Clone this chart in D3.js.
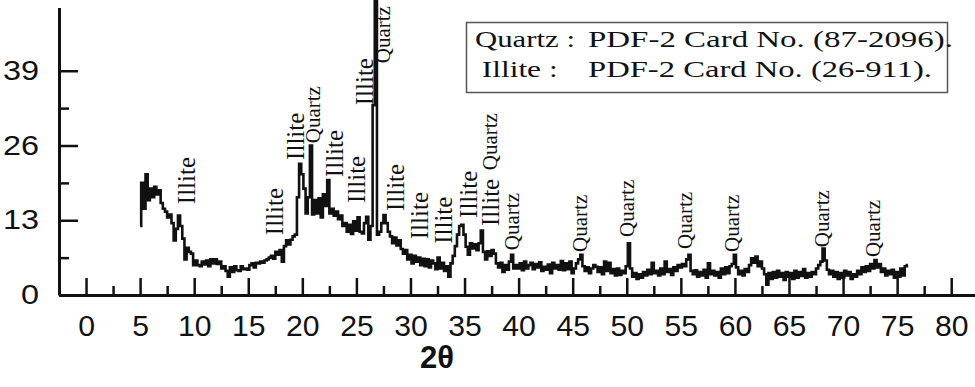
<!DOCTYPE html>
<html>
<head>
<meta charset="utf-8">
<script src="https://cdn.jsdelivr.net/npm/d3@7"></script>
<style>
  html, body { margin: 0; padding: 0; background: #fff; }
  svg { display: block; }
</style>
</head>
<body>
<div id="chart"></div>
<script>
const width = 975;
const height = 387;

// XRD intensity: one row per degree of 2θ,
// five readings per row (x.0, x.2, x.4, x.6, x.8)
const startAngle = 5;
const angleStep = 0.2;
const intensityRows = [
  [12, 19.5, 15, 21, 16.5],        // 5
  [18.5, 17, 18.8, 17.5, 18.2],    // 6
  [16, 15, 14.5, 13.5, 14],        // 7
  [12.5, 9.5, 11.5, 13.8, 12],     // 8
  [9.8, 6.2, 8.2, 7.5, 7.2],       // 9
  [5.2, 6, 5.2, 5, 5.8],           // 10
  [5.3, 6, 5, 6.2, 5.5],           // 11
  [6.2, 5.4, 5.8, 4.6, 5],         // 12
  [4.2, 3.2, 4.8, 4, 5],           // 13
  [4.3, 4.2, 5, 4.5, 4.6],         // 14
  [4.4, 5.2, 5.5, 4.8, 5.6],       // 15
  [5.5, 5.8, 5.6, 6, 6.2],         // 16
  [6.5, 6.8, 6.3, 7.5, 7],         // 17
  [7.8, 5.8, 8.5, 9.5, 8.8],       // 18
  [9.6, 10.2, 10.5, 17, 22.8],     // 19
  [21, 18.5, 14.2, 17, 26],        // 20
  [14, 16.5, 14.2, 16.8, 13.5],    // 21
  [17.5, 15.5, 20, 14.2, 15],      // 22
  [13.8, 14.5, 13.2, 13.8, 12],    // 23
  [12.5, 11, 12.2, 10.6, 12.8],    // 24
  [11.2, 13.5, 11, 10.7, 12.5],    // 25
  [13.6, 9.6, 12, 33, 52],         // 26
  [10.5, 11, 12.5, 13.9, 12.5],    // 27
  [11, 10.2, 9, 10, 8.6],          // 28
  [9.5, 8, 7.2, 7.8, 6.2],         // 29
  [7, 5.5, 6.8, 5.8, 6.5],         // 30
  [5.2, 6.3, 5, 6.2, 4.8],         // 31
  [6, 5.5, 4.5, 6.5, 4.6],         // 32
  [5.6, 4.2, 5, 3.2, 5.5],         // 33
  [6.8, 8.5, 10.5, 12, 12.2],      // 34
  [10.5, 8.4, 7, 9, 8.1],          // 35
  [8.8, 7.8, 9, 11.2, 7.5],        // 36
  [6.2, 7.6, 6.8, 7.8, 7.2],       // 37
  [5.5, 4.8, 5.6, 4, 5.2],         // 38
  [4.4, 5.8, 7, 4.6, 5.2],         // 39
  [4.6, 5.5, 4.3, 5.8, 4.6],       // 40
  [5.2, 5.6, 4.5, 5.4, 4.8],       // 41
  [5.7, 4.2, 4.9, 4.4, 5.3],       // 42
  [3.8, 5.6, 4.6, 5.2, 4.4],       // 43
  [5.9, 4.3, 5.5, 4.5, 5.8],       // 44
  [3.8, 4.6, 5.5, 6.2, 7],         // 45
  [5, 4.2, 4.8, 3.8, 4.6],         // 46
  [5.2, 4.9, 4, 4.8, 3.6],         // 47
  [5.8, 4.2, 5.6, 3.8, 4.5],       // 48
  [3.4, 4.6, 3.5, 4.2, 3.8],       // 49
  [5, 9, 4.6, 3.2, 3.8],           // 50
  [2.8, 3.6, 3, 4, 3.4],           // 51
  [4.4, 3.6, 5.6, 3.8, 4.2],       // 52
  [3.4, 4.6, 3.6, 5.8, 4],         // 53
  [4.5, 3.5, 4.8, 4.2, 5.2],       // 54
  [4.8, 5.4, 5, 6.2, 7],           // 55
  [4.2, 3.6, 4.3, 3.2, 4],         // 56
  [3.4, 4.4, 3, 5.5, 3.6],         // 57
  [4.2, 3.4, 4, 3, 4.6],           // 58
  [3.6, 4.8, 3.8, 5, 5.4],         // 59
  [7, 4.8, 3.6, 4.2, 3.4],         // 60
  [4.5, 4, 5.2, 6.4, 5.6],         // 61
  [6.7, 5, 5.8, 4.6, 3.6],         // 62
  [1.8, 3.8, 2.8, 4, 3],           // 63
  [4.2, 3.2, 3.8, 2.6, 4],         // 64
  [3.2, 3.8, 2.8, 4.2, 3],         // 65
  [4, 3.3, 4.5, 3, 3.8],           // 66
  [3.2, 4, 3.6, 4.6, 5.2],         // 67
  [5.8, 8.1, 6, 4.4, 3.6],         // 68
  [4.2, 3.2, 4, 2.8, 3.8],         // 69
  [3, 4.2, 3.4, 4, 2.8],           // 70
  [3.6, 3.2, 4.2, 3.6, 4.8],       // 71
  [4, 5, 4.2, 5.4, 4.6],           // 72
  [6.1, 4.8, 5.4, 4, 4.6],         // 73
  [3.4, 4.2, 3.6, 4.4, 3],         // 74
  [4, 3.2, 4.6, 3.4, 5],           // 75
  [5.2]                            // 76
];

const xTickValues = d3.range(0, 81, 5);
const yTickValues = [0, 13, 26, 39];

// peak annotations: phase, 2θ of the label, intensity where the label starts
const peakNames = ['Illite', 'Illite', 'Illite', 'Quartz', 'Illite', 'Illite', 'Illite', 'Quartz',
  'Illite', 'Illite', 'Illite', 'Illite', 'Illite', 'Quartz', 'Quartz',
  'Quartz', 'Quartz', 'Quartz', 'Quartz', 'Quartz', 'Quartz'];
const peakAngles = [10.06, 18.2, 20.13, 21.62, 23.75, 25.78, 26.53, 28.09,
  29.39, 31.61, 33.83, 36.14, 38.18, 37.99, 40.03,
  46.32, 50.67, 56.03, 60.38, 68.71, 73.42];
const peakLevels = [15.8, 10.4, 23.5, 26.4, 20.5, 16.0, 33.0, 40.3,
  14.6, 9.7, 8.9, 13.4, 12.0, 21.7, 7.8,
  7.5, 10.1, 8.0, 7.5, 8.3, 6.6];

const legendPhases = ['Quartz :', 'Illite :'];
const legendCards = ['PDF-2 Card No. (87-2096).', 'PDF-2 Card No. (26-911).'];

const data = intensityRows.flat().map((v, i) => ({ angle: startAngle + i * angleStep, value: v }));
const peaks = peakNames.map((name, i) => ({ name, angle: peakAngles[i], level: peakLevels[i] }));

const svg = d3.select('#chart').append('svg')
  .attr('width', width)
  .attr('height', height);

const x = d3.scaleLinear().domain([-2.5, 82.2]).range([59, 975]);
const y = d3.scaleLinear().domain([0, 50]).range([295, 7.5]);

const sans = "'Liberation Sans', Arial, sans-serif";
const serif = "'Liberation Serif', 'Times New Roman', serif";

// curve
svg.append('path')
  .datum(data)
  .attr('fill', 'none')
  .attr('stroke', '#111')
  .attr('stroke-width', 2.6)
  .attr('d', d3.line().x(d => x(d.angle)).y(d => y(d.value)).curve(d3.curveStep));

// x axis: minor ticks first, then major with labels
svg.append('g')
  .attr('transform', `translate(0,${y(0)})`)
  .call(d3.axisBottom(x).tickValues(d3.range(2.5, 82, 5)).tickSizeInner(-9).tickSizeOuter(0).tickFormat(''))
  .call(g => g.select('.domain').remove())
  .call(g => g.selectAll('line').attr('stroke', '#111').attr('stroke-width', 2.5));

const xAxis = svg.append('g')
  .attr('transform', `translate(0,${y(0)})`)
  .call(d3.axisBottom(x).tickValues(xTickValues).tickSizeInner(-17).tickSizeOuter(0).tickPadding(20));
xAxis.select('.domain').attr('stroke', '#111').attr('stroke-width', 3);
xAxis.selectAll('line').attr('stroke', '#111').attr('stroke-width', 2.5);
xAxis.selectAll('text')
  .attr('font-family', sans)
  .attr('font-size', 29)
  .attr('fill', '#111')
  .attr('transform', 'scale(1.04,1)');

// y axis
svg.append('g')
  .attr('transform', `translate(${x(-2.5)},0)`)
  .call(d3.axisLeft(y).tickValues([6.5, 19.5, 32.5]).tickSizeInner(-10).tickSizeOuter(0).tickFormat(''))
  .call(g => g.select('.domain').remove())
  .call(g => g.selectAll('line').attr('stroke', '#111').attr('stroke-width', 2.5));

const yAxis = svg.append('g')
  .attr('transform', `translate(${x(-2.5)},0)`)
  .call(d3.axisLeft(y).tickValues(yTickValues).tickSizeInner(-19).tickSizeOuter(0));
yAxis.select('.domain').attr('stroke', '#111').attr('stroke-width', 3);
yAxis.selectAll('line').attr('stroke', '#111').attr('stroke-width', 2.5);
yAxis.selectAll('text')
  .attr('x', 0)
  .attr('font-family', sans)
  .attr('font-size', 27)
  .attr('fill', '#111')
  .attr('transform', 'translate(-20,0) scale(1.2,1)');

// axis title
svg.append('text')
  .attr('x', 437)
  .attr('y', 368)
  .attr('text-anchor', 'middle')
  .attr('font-family', sans)
  .attr('font-weight', 'bold')
  .attr('font-size', 31)
  .attr('fill', '#111')
  .text('2θ');

// peak labels
svg.append('g')
  .selectAll('text')
  .data(peaks)
  .join('text')
  .attr('transform', d => `translate(${x(d.angle)},${y(d.level)}) rotate(-90)`)
  .attr('font-family', serif)
  .attr('font-size', d => d.name === 'Illite' ? 25 : 21)
  .attr('fill', '#111')
  .text(d => d.name);

// legend box
const legend = svg.append('g');
legend.append('rect')
  .attr('x', 466.5).attr('y', 22.5)
  .attr('width', 481).attr('height', 70)
  .attr('fill', '#fff')
  .attr('stroke', '#555')
  .attr('stroke-width', 1.5);

const phaseStart = [475, 481.7];
const phaseLength = [100, 76];
const cardLength = [365, 344];
legendPhases.forEach((p, i) => {
  const base = 47.3 + i * 30;
  legend.append('text')
    .attr('x', phaseStart[i]).attr('y', base)
    .attr('font-family', serif).attr('font-size', 24).attr('fill', '#111')
    .attr('textLength', phaseLength[i]).attr('lengthAdjust', 'spacingAndGlyphs')
    .text(p);
  legend.append('text')
    .attr('x', 588).attr('y', base)
    .attr('font-family', serif).attr('font-size', 24).attr('fill', '#111')
    .attr('textLength', cardLength[i]).attr('lengthAdjust', 'spacingAndGlyphs')
    .text(legendCards[i]);
});
</script>
</body>
</html>
